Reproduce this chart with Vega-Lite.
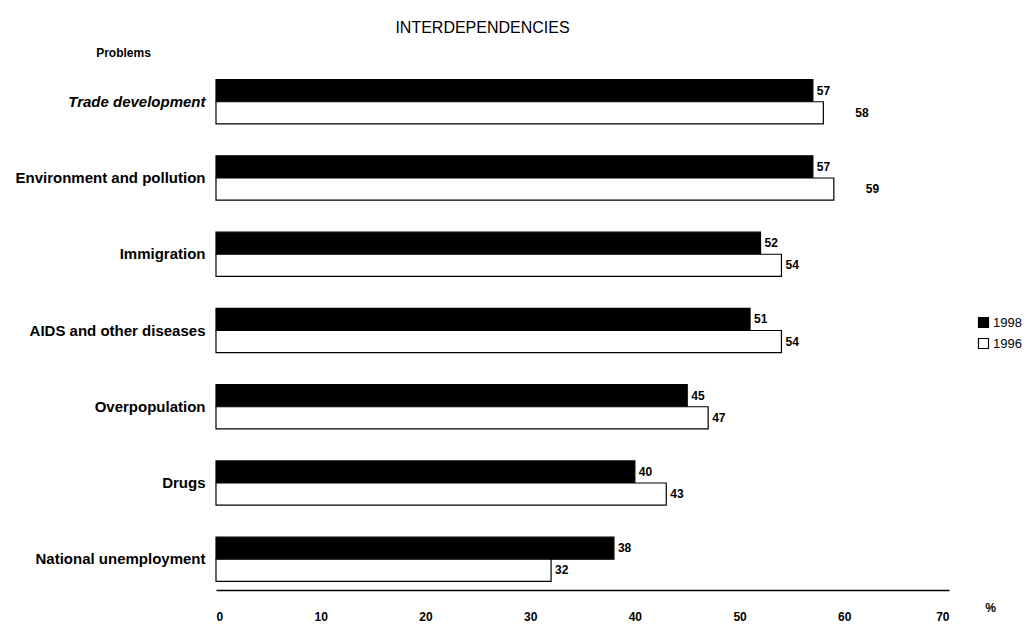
{
  "$schema": "https://vega.github.io/schema/vega-lite/v6.json",
  "width": 733,
  "height": 519,
  "autosize": "none",
  "padding": {"left": 216, "top": 71, "right": 78, "bottom": 35},
  "background": "white",
  "config": {
    "view": {"stroke": null},
    "font": "Liberation Sans"
  },
  "title": {
    "text": "INTERDEPENDENCIES",
    "anchor": "middle",
    "frame": "group",
    "dx": -100,
    "offset": 10,
    "fontSize": 16,
    "fontWeight": "normal",
    "font": "Liberation Sans",
    "color": "black"
  },
  "data": {
    "values": [
      {"problem": "Trade development", "year": "1998", "value": 57},
      {"problem": "Trade development", "year": "1996", "value": 58},
      {"problem": "Environment and pollution", "year": "1998", "value": 57},
      {"problem": "Environment and pollution", "year": "1996", "value": 59},
      {"problem": "Immigration", "year": "1998", "value": 52},
      {"problem": "Immigration", "year": "1996", "value": 54},
      {"problem": "AIDS and other diseases", "year": "1998", "value": 51},
      {"problem": "AIDS and other diseases", "year": "1996", "value": 54},
      {"problem": "Overpopulation", "year": "1998", "value": 45},
      {"problem": "Overpopulation", "year": "1996", "value": 47},
      {"problem": "Drugs", "year": "1998", "value": 40},
      {"problem": "Drugs", "year": "1996", "value": 43},
      {"problem": "National unemployment", "year": "1998", "value": 38},
      {"problem": "National unemployment", "year": "1996", "value": 32}
    ]
  },
  "encoding": {
    "y": {
      "field": "problem",
      "type": "nominal",
      "sort": null,
      "scale": {"paddingInner": 0.42, "paddingOuter": 0.113},
      "axis": {
        "title": "Problems",
        "titleAngle": 0,
        "titleX": -93,
        "titleY": -19,
        "titleAlign": "center",
        "titleBaseline": "middle",
        "titleFontSize": 12,
        "titleFontWeight": "bold",
        "titleColor": "black",
        "titleFont": "Liberation Sans",
        "labelFont": "Liberation Sans",
        "labelFontSize": 15,
        "labelFontWeight": "bold",
        "labelFontStyle": {"condition": {"test": "datum.value == 'Trade development'", "value": "italic"}, "value": "normal"},
        "labelColor": "black",
        "labelPadding": 11,
        "ticks": false,
        "domain": false,
        "grid": false,
        "labelLimit": 300
      }
    },
    "yOffset": {
      "field": "year",
      "type": "nominal",
      "sort": ["1998", "1996"],
      "scale": {"paddingInner": 0, "paddingOuter": 0}
    },
    "x": {
      "field": "value",
      "type": "quantitative",
      "scale": {"domain": [0, 70], "nice": false},
      "axis": {
        "values": [0, 10, 20, 30, 40, 50, 60, 70],
        "title": "%",
        "titleAngle": 0,
        "titleX": 774,
        "titleY": 17,
        "titleAlign": "center",
        "titleBaseline": "middle",
        "titleFontSize": 12,
        "titleFontWeight": "bold",
        "titleColor": "black",
        "labelFont": "Liberation Sans",
        "labelFontSize": 12,
        "labelFontWeight": "bold",
        "labelColor": "black",
        "labelPadding": 21,
        "ticks": false,
        "grid": false,
        "domain": true,
        "domainColor": "black",
        "domainWidth": 1.5
      }
    }
  },
  "layer": [
    {
      "mark": {"type": "bar", "stroke": "black", "strokeWidth": 1.2},
      "encoding": {
        "fill": {
          "field": "year",
          "type": "nominal",
          "sort": ["1998", "1996"],
          "scale": {"domain": ["1998", "1996"], "range": ["black", "white"]},
          "legend": {
            "title": null,
            "orient": "none",
            "legendX": 761,
            "legendY": 245,
            "symbolType": "square",
            "symbolSize": 100,
            "symbolStrokeColor": "black",
            "symbolStrokeWidth": 1.2,
            "labelFontSize": 13,
            "labelFont": "Liberation Sans",
            "labelColor": "black",
            "labelOffset": 3,
            "rowPadding": 6
          }
        }
      }
    },
    {
      "transform": [
        {"filter": "!(datum.year == '1996' && (datum.problem == 'Trade development' || datum.problem == 'Environment and pollution'))"}
      ],
      "mark": {"type": "text", "align": "left", "baseline": "middle", "dx": 4, "fontSize": 12, "fontWeight": "bold", "font": "Liberation Sans", "color": "black"},
      "encoding": {
        "text": {"field": "value", "type": "quantitative"}
      }
    },
    {
      "transform": [
        {"filter": "datum.year == '1996' && (datum.problem == 'Trade development' || datum.problem == 'Environment and pollution')"}
      ],
      "mark": {"type": "text", "align": "left", "baseline": "middle", "dx": 32, "fontSize": 12, "fontWeight": "bold", "font": "Liberation Sans", "color": "black"},
      "encoding": {
        "text": {"field": "value", "type": "quantitative"}
      }
    }
  ]
}
